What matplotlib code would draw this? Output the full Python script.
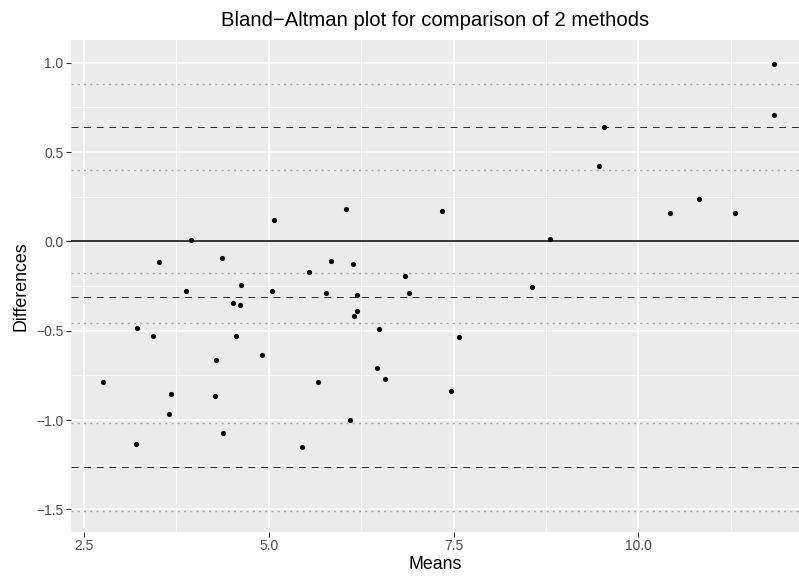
import numpy as np
import matplotlib
matplotlib.use('Agg')
import matplotlib.pyplot as plt

# means of the two methods and their differences
means = [2.76, 3.22, 3.21, 3.43, 3.65, 3.68, 3.88, 3.51, 3.95, 4.37,
         4.29, 4.27, 4.38, 4.52, 4.61, 4.56, 4.63, 4.91, 5.05, 5.07,
         5.45, 5.55, 5.67, 5.78, 5.84, 6.04, 6.14, 6.10, 6.16, 6.19,
         6.20, 6.49, 6.47, 6.57, 7.34, 6.85, 6.90, 7.58, 7.47, 8.56,
         8.80, 9.47, 9.53, 10.43, 10.82, 11.31, 11.84, 11.84]
diffs = [-0.789, -0.483, -1.136, -0.529, -0.966, -0.854, -0.276, -0.115, 0.010, -0.095,
         -0.662, -0.865, -1.072, -0.345, -0.356, -0.528, -0.244, -0.636, -0.278, 0.120,
         -1.153, -0.173, -0.785, -0.291, -0.108, 0.181, -0.125, -1.002, -0.416, -0.388,
         -0.298, -0.490, -0.709, -0.770, 0.172, -0.192, -0.291, -0.535, -0.837, -0.257,
         0.011, 0.420, 0.638, 0.157, 0.235, 0.157, 0.993, 0.709]

# mean difference and limits of agreement, with their confidence intervals
ba_lines = [0.642, -0.313, -1.265]
ci_lines = [0.882, 0.400, -0.175, -0.455, -1.015, -1.510]

x_ticks = [2.5, 5.0, 7.5, 10.0]
y_ticks = [1.0, 0.5, 0.0, -0.5, -1.0, -1.5]

plt.rcParams['font.family'] = ['Liberation Sans', 'DejaVu Sans']

fig = plt.figure(figsize=(7.99, 5.76), dpi=100)
ax = fig.add_axes([71 / 799, 1 - 531.7 / 576, 1 - 71 / 799, (531.7 - 40) / 576])
ax.set_facecolor('#ebebeb')
for s in ax.spines.values():
    s.set_visible(False)

ax.set_xlim(2.324, 12.175)
ax.set_ylim(-1.625, 1.127)

# ggplot style grid
for v in [3.75, 6.25, 8.75, 11.25]:
    ax.axvline(v, color='white', lw=0.55, zorder=0)
for v in [0.75, 0.25, -0.25, -0.75, -1.25]:
    ax.axhline(v, color='white', lw=0.55, zorder=0)
for v in x_ticks:
    ax.axvline(v, color='white', lw=1.1, zorder=0)
for v in y_ticks:
    ax.axhline(v, color='white', lw=1.1, zorder=0)

for v in ci_lines:
    ax.axhline(v, color='#a6a6a6', lw=1.0, linestyle=(0, (1.5, 3)), zorder=1)
for v in ba_lines:
    ax.axhline(v, color='#2a2a2a', lw=0.7, linestyle=(0, (7, 6)), zorder=1)
ax.axhline(0, color='black', lw=1.1, zorder=2)

ax.scatter(means, diffs, s=14, color='black', zorder=3, linewidths=0)

ax.set_xticks(x_ticks)
ax.set_xticklabels(['%.1f' % v for v in x_ticks])
ax.set_yticks(y_ticks)
ax.set_yticklabels([('%.1f' % v).replace('-', '\u2212') for v in y_ticks])
ax.tick_params(colors='#333333', labelcolor='#4d4d4d', labelsize=10, length=3.5, width=0.8, pad=2)

ax.set_xlabel('Means', fontsize=12.8, labelpad=2)
ax.set_ylabel('Differences', fontsize=12.8, labelpad=5)
ax.set_title('Bland\u2212Altman plot for comparison of 2 methods', fontsize=14.6, pad=10)

fig.savefig('out.png', dpi=100)
